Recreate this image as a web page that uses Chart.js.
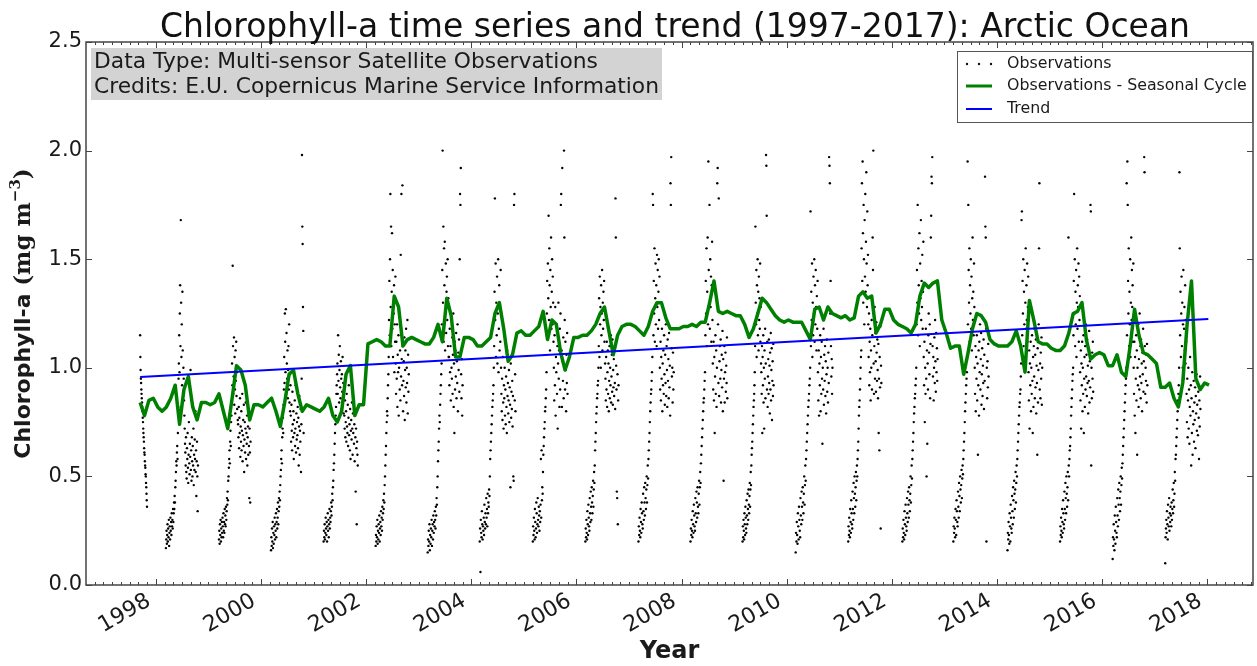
<!DOCTYPE html>
<html>
<head>
<meta charset="utf-8">
<script src="https://cdn.jsdelivr.net/npm/chart.js@4.4.1/dist/chart.umd.min.js"></script>
<style>
  html, body { margin: 0; padding: 0; background: #fff; }
</style>
</head>
<body>
<canvas id="myChart" width="1257" height="666"></canvas>
<script>
// axis ticks
const yearTicks = [1998, 2000, 2002, 2004, 2006, 2008, 2010, 2012, 2014, 2016, 2018];
const valueTicks = [0, 0.5, 1.0, 1.5, 2.0, 2.5];

// seasonal-cycle removed series, monthly from Sep 1997
const seasonalStart = 1997.70;
const seasonalValues = [
  0.84,0.78,0.85,0.86,0.82,0.80,0.82,0.86,0.92,0.74,
  0.90,0.96,0.82,0.76,0.84,0.84,0.83,0.84,0.88,0.80,
  0.72,0.86,1.01,0.99,0.92,0.76,0.83,0.83,0.82,0.84,
  0.86,0.80,0.73,0.84,0.97,0.99,0.88,0.80,0.83,0.82,
  0.81,0.80,0.82,0.86,0.78,0.75,0.80,0.97,1.01,0.78,
  0.83,0.83,1.11,1.12,1.13,1.12,1.10,1.10,1.33,1.28,
  1.10,1.13,1.14,1.13,1.12,1.11,1.11,1.14,1.20,1.12,
  1.32,1.24,1.05,1.05,1.14,1.14,1.13,1.10,1.10,1.12,
  1.14,1.25,1.30,1.18,1.03,1.06,1.16,1.17,1.15,1.15,
  1.17,1.19,1.26,1.13,1.22,1.20,1.07,0.99,1.05,1.14,
  1.14,1.15,1.15,1.17,1.20,1.25,1.28,1.17,1.06,1.15,
  1.19,1.20,1.20,1.19,1.17,1.15,1.19,1.26,1.30,1.30,
  1.23,1.18,1.18,1.18,1.19,1.19,1.20,1.19,1.21,1.21,
  1.30,1.40,1.26,1.25,1.26,1.25,1.24,1.24,1.20,1.14,
  1.18,1.25,1.32,1.30,1.27,1.24,1.22,1.21,1.22,1.21,
  1.21,1.21,1.17,1.13,1.27,1.28,1.22,1.28,1.25,1.24,
  1.23,1.24,1.22,1.23,1.33,1.35,1.32,1.33,1.16,1.20,
  1.27,1.27,1.22,1.20,1.19,1.18,1.16,1.20,1.33,1.39,
  1.37,1.39,1.40,1.22,1.16,1.09,1.10,1.10,0.97,1.07,
  1.18,1.25,1.24,1.21,1.13,1.11,1.10,1.10,1.10,1.12,
  1.17,1.10,0.98,1.31,1.22,1.12,1.11,1.11,1.09,1.08,
  1.08,1.10,1.16,1.25,1.26,1.30,1.13,1.04,1.06,1.07,
  1.06,1.01,1.01,1.06,0.98,0.96,1.10,1.27,1.15,1.07,
  1.06,1.04,1.02,0.91,0.91,0.93,0.86,0.82,0.93,1.20,
  1.40,0.95,0.90,0.93,0.92
];

// linear trend end points
const trendYears = [1997.70, 2018.02];
const trendValues = [0.958, 1.225];

// observation seasons (first and last day of each year's record)
const seasonStart = [1997.70, 1998.19, 1999.20, 2000.19, 2001.19, 2002.18, 2003.17, 2004.16, 2005.17, 2006.17, 2007.18,
                     2008.17, 2009.16, 2010.17, 2011.17, 2012.20, 2013.17, 2014.20, 2015.20, 2016.20, 2017.20];
const seasonEnd   = [1997.83, 1998.80, 1999.80, 2000.81, 2001.84, 2002.81, 2003.84, 2004.84, 2005.83, 2006.80, 2007.85,
                     2008.87, 2009.75, 2010.87, 2011.80, 2012.87, 2013.84, 2014.86, 2015.83, 2016.86, 2017.87];

// observations, in time order within each season
const obs1997 = [1.15,1.05,.99,.95,.93,.90,.88,.86,.84,.82,.80,.77,.75,.72,.70,.68,.66,.63,.61,.60,.57,.55,.54,.51,.50,.47,.45,.42,.39,.36];
const obs1998 = [.17,.21,.25,.19,.23,.28,.20,.26,.22,.30,.18,.24,.27,.21,.31,.25,.29,.23,.33,.27,.30,.26,.35,.29,.33,.38,.35,.41,.38,.45,
  .48,.52,.57,.55,.61,.64,.58,.70,.82,.95,
  1.02,1.15,.98,1.25,1.38,1.10,1.68,1.30,1.05,1.20,.92,1.35,1.08,.88,1.00,.95,.85,.78,.72,.65,
  .61,.55,.68,.52,.49,.63,.58,.70,.54,.47,.60,.75,.56,.51,.65,.59,.99,.53,.62,.48,
  .68,.57,.50,.64,.55,.72,.46,.60,.53,.67,.58,.80,.52,.62,.41,.57,.66,.50,.34,.55];
const obs1999 = [.21,.25,.19,.28,.23,.30,.20,.26,.22,.29,.24,.31,.27,.22,.33,.25,.29,.24,.35,.28,.32,.27,.36,.30,.34,.40,.37,.43,.39,.48,
  .50,.54,.58,.62,.56,.66,.71,.64,.75,.78,
  .85,1.02,.92,1.47,1.10,.88,.96,1.14,.83,1.05,.90,.79,1.08,.94,1.12,.87,.98,.81,1.00,.76,
  .74,.68,.82,.63,.77,.70,.86,.59,.73,.66,.80,.62,.71,.88,.57,.69,.76,.64,.83,.52,
  .67,.75,.61,.72,.84,.58,.70,.65,.78,.55,.68,.73,.60,.81,.64,.40,.72,.61,.38,.66];
const obs2000 = [.16,.22,.18,.26,.20,.29,.17,.24,.19,.27,.23,.31,.21,.28,.25,.33,.22,.29,.35,.26,.31,.38,.28,.34,.40,.36,.43,.39,.46,.50,
  .53,.58,.62,.56,.68,.72,.77,.70,.83,.90,
  1.05,.93,1.25,1.12,.98,1.27,.88,1.16,1.02,.95,1.08,.86,.99,1.10,.90,1.20,.84,.97,.80,.92,
  .78,.66,.83,.71,.62,.89,.74,.68,.80,.58,.76,.70,.85,.64,.72,.92,.61,.79,.67,.75,
  .69,.82,.63,.77,.55,.73,.87,.60,.71,.66,.81,.52,.74,.95,1.98,1.65,1.57,1.28,1.17,.70];
const obs2001 = [.20,.25,.22,.28,.21,.24,.31,.26,.23,.29,.20,.27,.33,.25,.30,.22,.28,.35,.26,.31,.29,.34,.38,.32,.36,.42,.39,.45,.48,.53,
  .56,.60,.65,.70,.74,.78,.82,.88,.92,.97,
  1.02,.88,1.15,.94,1.06,.84,.99,1.10,.91,.86,1.03,.95,.81,.97,.89,1.05,.83,.93,.79,.90,
  .78,.72,.85,.68,.75,.80,.66,.88,.73,.70,.83,.64,.77,.92,.69,.74,.62,.81,.58,.71,
  .76,.67,.84,.72,.60,.79,.70,.86,.65,.74,.57,.81,.68,.43,.72,.63,.28,.66,.60,.55];
const obs2002 = [.18,.23,.20,.27,.22,.30,.19,.25,.21,.28,.24,.32,.20,.26,.29,.23,.34,.27,.31,.25,.36,.30,.33,.39,.35,.42,.38,.46,.50,.55,
  .60,.64,.70,.75,.80,.78,.86,.92,.97,1.05,
  1.22,1.40,1.15,1.50,1.80,1.28,1.65,1.10,1.35,1.62,1.18,1.45,1.05,1.30,1.25,1.38,.98,1.20,1.12,1.42,
  1.02,.88,1.12,.95,1.20,.82,1.06,.98,1.15,.78,1.00,1.25,.90,1.08,.85,1.52,.96,1.80,1.04,.92,
  1.84,1.10,.80,.94,1.03,.87,1.14,.76,.99,1.08,.91,1.18,.84,1.00,.93,1.22,.79,1.06,.89,.97];
const obs2003 = [.15,.21,.18,.25,.20,.28,.16,.23,.19,.26,.22,.30,.18,.25,.28,.21,.32,.24,.29,.27,.34,.30,.26,.36,.32,.40,.37,.45,.50,.57,
  .62,.66,.72,.78,.75,.83,.88,.92,.97,1.02,
  1.20,1.45,2.00,1.30,1.65,1.12,1.55,1.38,1.58,1.08,1.25,1.48,1.16,1.35,1.42,1.22,1.50,1.10,1.32,1.05,
  1.05,.92,1.18,.98,1.10,.85,1.22,1.00,.95,1.14,.88,1.06,1.25,.82,1.02,.70,1.12,.90,1.08,.96,
  1.16,.86,1.03,.93,1.20,.80,1.07,.99,1.13,.89,1.50,1.80,1.75,1.92,.97,.86,1.04,.78,.92,1.10];
const obs2004 = [.20,.26,.06,.30,.24,.22,.34,.28,.21,.27,.25,.31,.23,.37,.29,.26,.33,.28,.40,.31,.35,.27,.42,.33,.38,.36,.44,.41,.50,.58,
  .62,.66,.70,.74,.78,.82,.85,.88,.92,1.00,
  1.10,1.35,1.78,1.22,1.48,1.05,1.30,1.15,1.42,1.02,1.25,1.50,.98,1.18,1.38,1.08,1.28,1.12,1.45,1.00,
  .88,.80,.95,.76,1.05,.84,.72,.92,.86,1.00,.78,.90,.74,.96,.82,.70,1.08,.87,.93,.79,
  .85,.99,.75,.91,.83,.45,1.02,.77,.89,.81,.94,.73,.87,.50,.48,1.75,1.80,.85,.97,.80];
const obs2005 = [.20,.27,.23,.31,.25,.21,.35,.29,.22,.26,.38,.33,.24,.28,.40,.30,.27,.36,.32,.25,.34,.29,.37,.58,.31,.62,.39,.45,.42,.52,
  .60,.64,.68,.72,.75,.80,.82,.86,.90,.98,
  1.25,1.40,1.15,1.48,1.32,1.70,1.22,1.55,1.38,1.08,1.45,1.28,1.60,1.18,1.35,1.50,1.20,1.42,1.30,1.12,
  1.00,.85,1.15,.92,1.28,.78,1.05,.98,1.20,.88,1.10,.72,1.02,1.30,.95,1.08,.82,1.18,.90,1.25,
  1.75,1.80,1.08,.82,1.92,1.03,.94,1.14,.86,2.00,1.60,1.22,.90,1.12,.99,.80,1.06,.93,1.16,.88];
const obs2006 = [.20,.26,.22,.30,.24,.21,.34,.28,.23,.37,.31,.27,.25,.40,.33,.29,.43,.36,.30,.45,.38,.33,.41,.48,.36,.44,.52,.47,.55,.62,
  .66,.70,.75,.79,.82,.86,.88,.92,.94,1.00,
  1.10,1.32,1.05,1.42,1.20,1.28,1.00,1.38,1.15,1.25,1.45,1.08,1.30,1.18,1.35,1.22,1.40,1.12,1.26,1.02,
  .95,.85,1.05,.90,1.12,.82,.98,1.08,.88,1.02,.80,.94,1.10,.86,1.00,.92,1.15,.84,.96,1.06,
  .89,1.13,.83,.99,.91,1.04,.87,1.09,.93,.81,1.78,1.60,1.01,.90,.43,.40,.97,.28,.85,.92];
const obs2007 = [.20,.27,.23,.31,.25,.22,.35,.29,.24,.38,.33,.28,.26,.42,.34,.30,.45,.38,.32,.47,.40,.35,.44,.50,.38,.46,.55,.49,.58,.62,
  .66,.70,.75,.80,.84,.88,.90,.94,.98,1.05,
  1.80,1.75,1.15,1.40,1.25,1.55,1.12,1.32,1.48,1.20,1.38,1.10,1.52,1.28,1.45,1.18,1.35,1.50,1.22,1.42,
  1.00,.90,1.12,.85,1.05,.95,1.18,.80,1.02,.92,1.08,.88,1.15,.97,.83,1.06,.93,1.20,.87,1.10,
  .99,.82,1.13,.94,1.04,.86,1.16,.91,1.01,.78,1.85,1.75,1.97,1.09,.96,1.00,.84,1.07,.90,.98];
const obs2008 = [.20,.26,.23,.30,.25,.22,.34,.28,.24,.37,.32,.27,.25,.40,.33,.29,.43,.38,.31,.45,.36,.33,.42,.48,.37,.45,.52,.47,.56,.60,
  .64,.68,.72,.76,.80,.84,.86,.90,.94,.98,
  1.15,1.40,1.25,1.55,1.10,1.35,1.60,1.20,1.95,1.45,1.30,1.75,1.18,1.50,1.28,1.42,1.12,1.38,1.58,1.22,
  1.02,.90,1.12,.85,1.05,.70,.96,1.15,.88,1.08,.82,1.00,1.85,1.92,1.20,.93,1.78,.87,1.03,1.10,
  .95,1.13,.84,.99,1.06,.91,1.17,.80,1.04,.48,.95,1.10,.84,.98,1.07,.89,1.01,.93,1.14,.86];
const obs2009 = [.20,.27,.22,.30,.25,.21,.33,.28,.23,.36,.31,.26,.24,.39,.32,.28,.42,.35,.30,.44,.37,.33,.41,.47,.36,.44,.52,.46,.55,.60,
  .63,.66,.70,.74,.78,.82,.85,.88,.92,.98,
  1.10,1.65,1.30,1.20,1.45,1.05,1.38,1.25,1.50,1.15,1.35,1.08,1.42,1.22,1.32,1.18,1.48,1.12,1.28,1.02,
  .98,.88,1.10,.70,1.05,.92,1.15,.84,1.00,.72,1.08,.95,1.18,.86,1.02,1.98,1.93,1.70,.90,1.12,
  .82,.96,1.04,.88,1.13,.93,1.01,.79,1.07,.90,1.16,.85,.99,1.09,.76,.94,1.03,.87,1.11,.92];
const obs2010 = [.15,.24,.20,.29,.23,.19,.33,.27,.21,.36,.30,.25,.22,.40,.32,.28,.43,.36,.30,.45,.38,.33,.42,.50,.37,.46,.55,.48,.58,.62,
  .66,.70,.74,.78,.82,.85,.88,.92,.95,1.00,
  1.72,1.10,1.35,1.22,1.48,1.05,1.30,1.15,1.42,1.25,1.50,1.12,1.38,1.20,1.45,1.28,1.08,1.33,1.18,1.40,
  .98,.85,1.08,.78,1.02,.92,1.15,.80,1.05,.88,1.12,.95,.65,1.00,.90,1.18,.83,1.06,.94,1.10,
  .87,1.03,.79,.97,1.13,.89,1.00,.84,1.07,.93,1.97,1.93,1.85,1.25,1.40,1.10,.96,1.04,.88,1.00];
const obs2011 = [.20,.27,.23,.31,.25,.22,.35,.29,.24,.39,.33,.28,.26,.43,.35,.30,.47,.40,.33,.50,.42,.36,.45,.52,.39,.48,.55,.50,.58,.62,
  .66,.72,.78,.82,.85,.90,.95,1.00,1.05,1.08,
  1.55,1.85,1.40,1.95,1.62,1.30,1.75,1.50,1.20,1.68,1.42,1.80,1.35,1.58,1.90,1.48,1.28,1.72,1.38,1.52,
  1.20,1.05,1.25,.92,1.12,.98,1.18,.85,1.08,1.00,1.22,.90,1.15,1.60,1.45,2.00,1.02,.88,1.10,1.28,
  .95,1.16,1.03,.89,1.21,1.07,.94,1.13,.99,.86,1.11,.70,.95,.62,1.05,.91,1.19,.26,1.01,.93];
const obs2012 = [.20,.26,.22,.30,.24,.21,.34,.28,.23,.37,.31,.27,.25,.40,.33,.29,.43,.37,.31,.45,.39,.34,.42,.50,.38,.46,.55,.49,.58,.62,
  .66,.70,.75,.79,.82,.86,.88,.92,.95,1.00,
  1.20,1.45,1.30,1.75,1.15,1.55,1.38,1.25,1.62,1.10,1.48,1.32,1.68,1.22,1.40,1.28,1.52,1.18,1.35,1.58,
  1.05,.92,1.12,.75,1.00,.88,1.18,.95,.50,1.08,.65,1.02,.90,1.15,1.25,1.07,.97,1.20,.86,1.11,
  1.60,1.70,1.88,1.85,1.97,1.10,.96,1.05,.85,1.00,1.14,.93,1.22,1.03,.89,1.16,.98,1.09,.94,1.04];
const obs2013 = [.20,.27,.24,.31,.26,.22,.35,.30,.23,.39,.34,.29,.27,.43,.36,.31,.47,.41,.34,.50,.44,.38,.46,.53,.40,.49,.55,.51,.58,.62,
  .66,.70,.75,.80,.84,.88,.92,.95,.98,1.05,
  1.95,1.20,1.75,1.45,1.30,1.55,1.12,1.38,1.25,1.50,1.18,1.42,1.08,1.32,1.60,1.22,1.35,1.15,1.48,1.28,
  1.00,.88,1.10,.80,1.05,.95,1.15,.85,1.02,.60,.92,1.08,.78,1.12,.98,1.20,.90,1.04,1.16,.83,
  .97,1.09,.87,1.01,.93,1.13,.81,1.06,.94,1.88,1.65,1.60,1.18,.20,1.00,.86,1.03,.91,1.11,.96];
const obs2014 = [.16,.24,.21,.29,.23,.19,.33,.27,.20,.37,.31,.26,.24,.41,.34,.28,.45,.39,.31,.48,.42,.35,.44,.52,.38,.47,.55,.50,.58,.62,
  .66,.70,.74,.78,.82,.84,.88,.90,.96,1.02,
  1.68,1.72,1.15,1.40,1.25,1.50,1.10,1.35,1.20,1.45,1.05,1.30,1.55,1.18,1.38,1.22,1.48,1.12,1.28,1.42,
  .98,.85,1.08,.72,1.02,.92,1.12,.80,1.00,.88,1.15,.94,.70,1.05,.82,1.10,.96,1.18,.86,1.06,
  .91,1.13,.79,1.01,.93,.60,1.09,.84,.99,1.20,1.55,1.85,.90,1.02,.86,1.07,.95,1.14,.83,1.00];
const obs2015 = [.20,.27,.23,.31,.25,.22,.35,.29,.24,.39,.33,.28,.26,.43,.35,.30,.47,.40,.33,.50,.42,.36,.45,.52,.39,1.60,.55,.50,.58,.62,
  .64,.68,.72,.78,.82,.86,.90,.94,.97,1.00,
  1.15,1.40,1.80,1.25,1.50,1.10,1.35,1.20,1.45,1.05,1.30,1.55,1.18,1.38,1.28,1.48,1.12,1.42,1.22,1.33,
  .98,.85,1.08,.72,1.02,.92,1.12,.80,1.00,.88,1.15,.70,.95,1.05,.82,1.10,.90,1.20,.96,1.06,
  .87,1.13,.93,1.01,.79,1.09,.94,1.17,.84,1.03,.91,1.75,1.72,.55,1.00,.86,1.07,.95,1.12,.89];
const obs2016 = [.12,.22,.18,.28,.21,.16,.32,.25,.19,.36,.29,.24,.22,.40,.32,.27,.44,.37,.30,.47,.40,.34,.43,.50,.37,.46,.54,.49,.56,.60,
  .64,.68,.72,.76,.80,.84,.88,.92,.95,1.00,
  1.85,1.15,1.95,1.75,1.40,1.25,1.55,1.10,1.35,1.20,1.50,1.05,1.30,1.60,1.22,1.45,1.28,1.38,1.12,1.48,
  1.00,.88,1.12,.78,1.05,.70,.95,1.15,.85,1.08,.60,1.00,.92,1.20,.82,1.04,.90,1.25,.96,1.10,
  .86,1.13,.93,1.02,.80,1.07,.97,1.18,.89,1.03,1.97,1.90,1.10,.88,1.00,.94,1.06,.84,1.11,.92];
const obs2017 = [.10,.22,.26,.30,.24,.34,.28,.21,.37,.31,.27,.40,.25,.33,.29,.36,.32,.27,.38,.30,.35,.44,.33,.39,.47,.36,.42,.52,.48,.58,
  .60,.64,.68,.72,.76,.80,.85,.88,.92,1.00,
  1.90,1.55,1.15,1.35,1.05,1.25,1.42,1.10,1.30,1.00,1.20,1.45,.95,1.18,1.28,1.08,1.38,1.02,1.22,1.12,
  .88,.75,.95,.68,.85,1.00,.72,.90,.65,.82,1.05,.78,.92,.55,.86,.70,.98,.60,.80,.74,
  .94,.66,.84,.76,.91,.63,.87,.79,.97,.71,.83,.93,.69,.89,.77,.58,.85,.73,.96,.81];

const obsSeasons = [obs1997, obs1998, obs1999, obs2000, obs2001, obs2002, obs2003, obs2004, obs2005, obs2006, obs2007,
                    obs2008, obs2009, obs2010, obs2011, obs2012, obs2013, obs2014, obs2015, obs2016, obs2017];

// build the points
const obsPoints = [];
obsSeasons.forEach((vals, i) => {
  const step = (seasonEnd[i] - seasonStart[i]) / (vals.length - 1);
  vals.forEach((v, j) => obsPoints.push({ x: seasonStart[i] + j * step, y: v }));
});
const seasonalPoints = seasonalValues.map((v, k) => ({ x: seasonalStart + k / 12, y: v }));
const trendPoints = trendYears.map((t, i) => ({ x: t, y: trendValues[i] }));

Chart.defaults.font.family = '"DejaVu Sans", sans-serif';
Chart.defaults.color = '#1a1a1a';

// frame, inward ticks, title, text box, legend, y label
const decor = {
  id: 'decor',
  afterDraw(chart) {
    const ctx = chart.ctx, a = chart.chartArea;
    const xs = chart.scales.x, ys = chart.scales.y;
    ctx.save();
    ctx.strokeStyle = '#444';
    ctx.lineWidth = 1;
    ctx.beginPath();
    for (let m = 0; m < 12 * 24; m += 2) {
      const t = 1996 + m / 12;
      const px = Math.round(xs.getPixelForValue(t)) + 0.5;
      if (px < a.left + 1 || px > a.right - 1) continue;
      const len = yearTicks.includes(t) ? 6 : 3;
      ctx.moveTo(px, a.bottom); ctx.lineTo(px, a.bottom - len);
      ctx.moveTo(px, a.top); ctx.lineTo(px, a.top + len);
    }
    valueTicks.forEach(v => {
      const py = Math.round(ys.getPixelForValue(v)) + 0.5;
      ctx.moveTo(a.left, py); ctx.lineTo(a.left + 6, py);
      ctx.moveTo(a.right, py); ctx.lineTo(a.right - 6, py);
    });
    ctx.stroke();
    ctx.lineWidth = 1.5;
    ctx.strokeRect(a.left, a.top, a.right - a.left, a.bottom - a.top);

    // title
    ctx.fillStyle = '#111';
    ctx.font = '33px "DejaVu Sans"';
    ctx.textAlign = 'center';
    ctx.textBaseline = 'alphabetic';
    ctx.fillText('Chlorophyll-a time series and trend (1997-2017): Arctic Ocean', 675, 37);

    // info box
    ctx.fillStyle = 'rgb(211,211,211)';
    ctx.fillRect(91, 48, 571, 52);
    ctx.fillStyle = '#1a1a1a';
    ctx.font = '21.8px "DejaVu Sans"';
    ctx.textAlign = 'left';
    ctx.fillText('Data Type: Multi-sensor Satellite Observations', 94, 68);
    ctx.fillText('Credits: E.U. Copernicus Marine Service Information', 94, 93);

    // legend
    ctx.fillStyle = '#fff';
    ctx.fillRect(957, 51, 296, 72);
    ctx.strokeStyle = '#555';
    ctx.lineWidth = 1;
    ctx.strokeRect(957.5, 51.5, 295, 71);
    ctx.fillStyle = '#111';
    [967, 979, 991].forEach(px => { ctx.beginPath(); ctx.arc(px, 64, 1.2, 0, Math.PI * 2); ctx.fill(); });
    ctx.lineWidth = 3; ctx.strokeStyle = 'green';
    ctx.beginPath(); ctx.moveTo(966, 86); ctx.lineTo(992, 86); ctx.stroke();
    ctx.lineWidth = 2; ctx.strokeStyle = 'blue';
    ctx.beginPath(); ctx.moveTo(966, 109); ctx.lineTo(992, 109); ctx.stroke();
    ctx.font = '15.8px "DejaVu Sans"';
    ctx.textBaseline = 'middle';
    ctx.fillStyle = '#1a1a1a';
    ctx.fillText('Observations', 1007, 64);
    ctx.fillText('Observations - Seasonal Cycle', 1007, 86);
    ctx.fillText('Trend', 1007, 109);

    // y axis label
    ctx.translate(30, (a.top + a.bottom) / 2);
    ctx.rotate(-Math.PI / 2);
    ctx.textBaseline = 'alphabetic';
    const bold = 'bold 22px "DejaVu Sans"';
    const serif = 'bold 23px "DejaVu Serif"';
    const sup = 'bold 15px "DejaVu Serif"';
    const parts = [
      [bold, 'Chlorophyll-a ', 0], [serif, '(mg m', 0], [sup, '\u22123', -10], [serif, ')', 0]
    ];
    let total = 0;
    parts.forEach(p => { ctx.font = p[0]; total += ctx.measureText(p[1]).width; });
    let cx = -total / 2;
    parts.forEach(p => {
      ctx.font = p[0];
      ctx.fillText(p[1], cx, p[2]);
      cx += ctx.measureText(p[1]).width;
    });
    ctx.restore();
  }
};

new Chart(document.getElementById('myChart'), {
  type: 'scatter',
  data: {
    datasets: [
      { label: 'Trend', data: trendPoints, showLine: true, borderColor: 'blue', borderWidth: 2,
        pointRadius: 0, order: 0 },
      { label: 'Observations - Seasonal Cycle', data: seasonalPoints, showLine: true, borderColor: 'green',
        borderWidth: 3.5, pointRadius: 0, borderJoinStyle: 'round', order: 1 },
      { label: 'Observations', data: obsPoints, backgroundColor: '#000', borderWidth: 0,
        pointRadius: 1.2, order: 2 }
    ]
  },
  options: {
    responsive: false,
    animation: false,
    layout: { padding: { top: 42, right: 2, left: 0, bottom: 0 } },
    plugins: {
      legend: { display: false },
      tooltip: { enabled: false }
    },
    scales: {
      x: {
        type: 'linear',
        min: 1996.67,
        max: 2018.87,
        afterBuildTicks: s => { s.ticks = yearTicks.map(v => ({ value: v })); },
        afterFit: s => { s.height = 81; },
        grid: { display: false, drawTicks: false },
        border: { display: false },
        ticks: {
          autoSkip: false, minRotation: 30, maxRotation: 30, padding: 3, labelOffset: -7,
          font: { size: 22 }, callback: v => String(v)
        },
        title: { display: true, text: 'Year', font: { size: 24, weight: 'bold' }, padding: { top: 0, bottom: 0 } }
      },
      y: {
        min: 0,
        max: 2.5,
        afterBuildTicks: s => { s.ticks = valueTicks.map(v => ({ value: v })); },
        afterFit: s => { s.width = 86; },
        grid: { display: false, drawTicks: false },
        border: { display: false },
        ticks: { padding: 4, font: { size: 21 }, callback: v => v.toFixed(1) }
      }
    }
  },
  plugins: [decor]
});
</script>
</body>
</html>
